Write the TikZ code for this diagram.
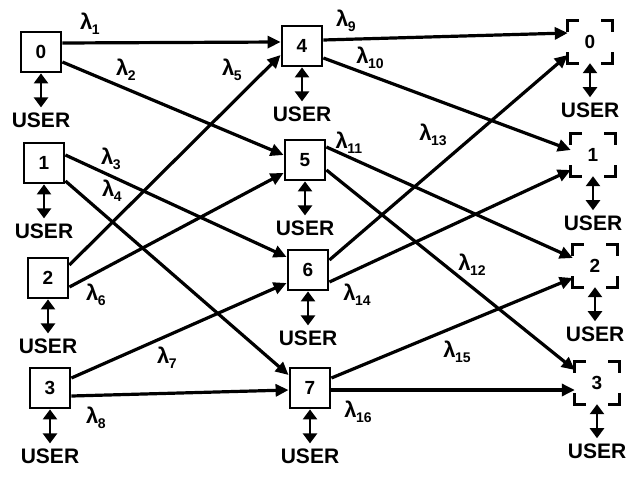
\documentclass[tikz,border=0pt]{standalone}
\usepackage{fontspec}
\setmainfont{Liberation Sans}
\usetikzlibrary{arrows.meta,calc}
\newcommand\lsub[1]{λ\kern-0.5pt\raisebox{-5pt}{\fontsize{14}{14}\selectfont #1}}
\begin{document}
\begin{tikzpicture}[x=1pt,y=-1pt,
  box/.style={draw,line width=2.8pt,minimum width=40pt,minimum height=40pt,inner sep=0pt,font=\fontsize{19}{19}\selectfont\bfseries},
  obox/.style={minimum width=44pt,minimum height=42pt,inner sep=0pt,font=\fontsize{19}{19}\selectfont\bfseries},
  link/.style={line width=3.2pt,-{Triangle[length=13pt,width=12pt]}},
  usr/.style={line width=2.8pt,{Triangle[length=10pt,width=14pt]}-{Triangle[length=10pt,width=14pt]}},
  utxt/.style={font=\fontsize{21}{21}\selectfont\bfseries,inner sep=0pt},
  lab/.style={font=\fontsize{22}{22}\selectfont\bfseries,inner sep=0pt},
  corner/.style={line width=2.8pt}]
\path[use as bounding box,fill=white] (0,0) rectangle (628,479);
% input column
\node[box] (i0) at (41,52) {0};
\node[box] (i1) at (44,163) {1};
\node[box] (i2) at (48,278) {2};
\node[box] (i3) at (50,388) {3};
% middle column
\node[box] (m4) at (302,46) {4};
\node[box] (m5) at (305,160) {5};
\node[box] (m6) at (308,270) {6};
\node[box] (m7) at (310,388) {7};
% output column
\node[obox] (o0) at (590,42) {0};
\node[obox] (o1) at (593,155) {1};
\node[obox] (o2) at (595,266) {2};
\node[obox] (o3) at (597,383) {3};
\foreach \n in {o0,o1,o2,o3}{
  \draw[corner] ($(\n.north west)+(0,11)$) -- (\n.north west) -- ++(11,0);
  \draw[corner] ($(\n.north east)+(0,11)$) -- (\n.north east) -- ++(-11,0);
  \draw[corner] ($(\n.south west)+(0,-11)$) -- (\n.south west) -- ++(11,0);
  \draw[corner] ($(\n.south east)+(0,-11)$) -- (\n.south east) -- ++(-11,0);
}
% user connectors
\foreach \n in {i0,i1,i2,i3,m4,m5,m6,m7,o0,o1,o2,o3}{
  \coordinate (u-\n) at ($(\n.south)+(0,34)$);
  \draw[usr] (\n.south) -- (u-\n);
  \node[utxt,anchor=north] (U-\n) at ($(u-\n)+(0,5)$) {USER};
}
% links stage 1
\draw[link] ($(i0.east)+(0,-9)$) -- ($(m4.west)+(0,-4)$);
\draw[link] ($(i0.east)+(0,10)$) -- ($(m5.west)+(0,-5)$);
\draw[link] ($(i1.east)+(0,-8)$) -- ($(m6.west)+(0,-13)$);
\draw[link] ($(i1.east)+(0,18)$) -- ($(m7.west)+(0,-13)$);
\draw[link] ($(i2.east)+(0,-13)$) -- ($(m4.west)+(0,9)$);
\draw[link] ($(i2.east)+(0,9)$) -- ($(m5.west)+(0,13)$);
\draw[link] ($(i3.east)+(0,-10)$) -- ($(m6.west)+(0,13)$);
\draw[link] ($(i3.east)+(0,8)$) -- ($(m7.west)+(0,2)$);
% links stage 2
\draw[link] ($(m4.east)+(0,-6)$) -- ($(o0.west)+(0,-9)$);
\draw[link] ($(m4.east)+(0,12)$) -- ($(o1.west)+(0,-5)$);
\draw[link] ($(m5.east)+(0,-13)$) -- ($(o2.west)+(0,-8)$);
\draw[link] ($(m5.east)+(0,10)$) -- ($(o3.west)+(0,-13)$);
\draw[link] ($(m6.east)+(0,-10)$) -- ($(o0.west)+(0,13)$);
\draw[link] ($(m6.east)+(0,12)$) -- ($(o1.west)+(0,15)$);
\draw[link] ($(m7.east)+(0,-10)$) -- ($(o2.west)+(0,12)$);
\draw[link] ($(m7.east)+(0,2)$) -- ($(o3.west)+(0,7)$);
% labels
\node[lab] (l1) at (90,24) {\lsub{1}};
\node[lab] (l2) at (126,70) {\lsub{2}};
\node[lab] (l3) at (111,159) {\lsub{3}};
\node[lab] (l4) at (112,191) {\lsub{4}};
\node[lab] (l5) at (232,70) {\lsub{5}};
\node[lab] (l6) at (96,295) {\lsub{6}};
\node[lab] (l7) at (167,358) {\lsub{7}};
\node[lab] (l8) at (96,418) {\lsub{8}};
\node[lab] (l9) at (346,21) {\lsub{9}};
\node[lab] (l10) at (370,58) {\lsub{10}};
\node[lab] (l11) at (349,143) {\lsub{11}};
\node[lab] (l12) at (472,265) {\lsub{12}};
\node[lab] (l13) at (433,135) {\lsub{13}};
\node[lab] (l14) at (357,295) {\lsub{14}};
\node[lab] (l15) at (457,352) {\lsub{15}};
\node[lab] (l16) at (358,412) {\lsub{16}};
\end{tikzpicture}
\end{document}
